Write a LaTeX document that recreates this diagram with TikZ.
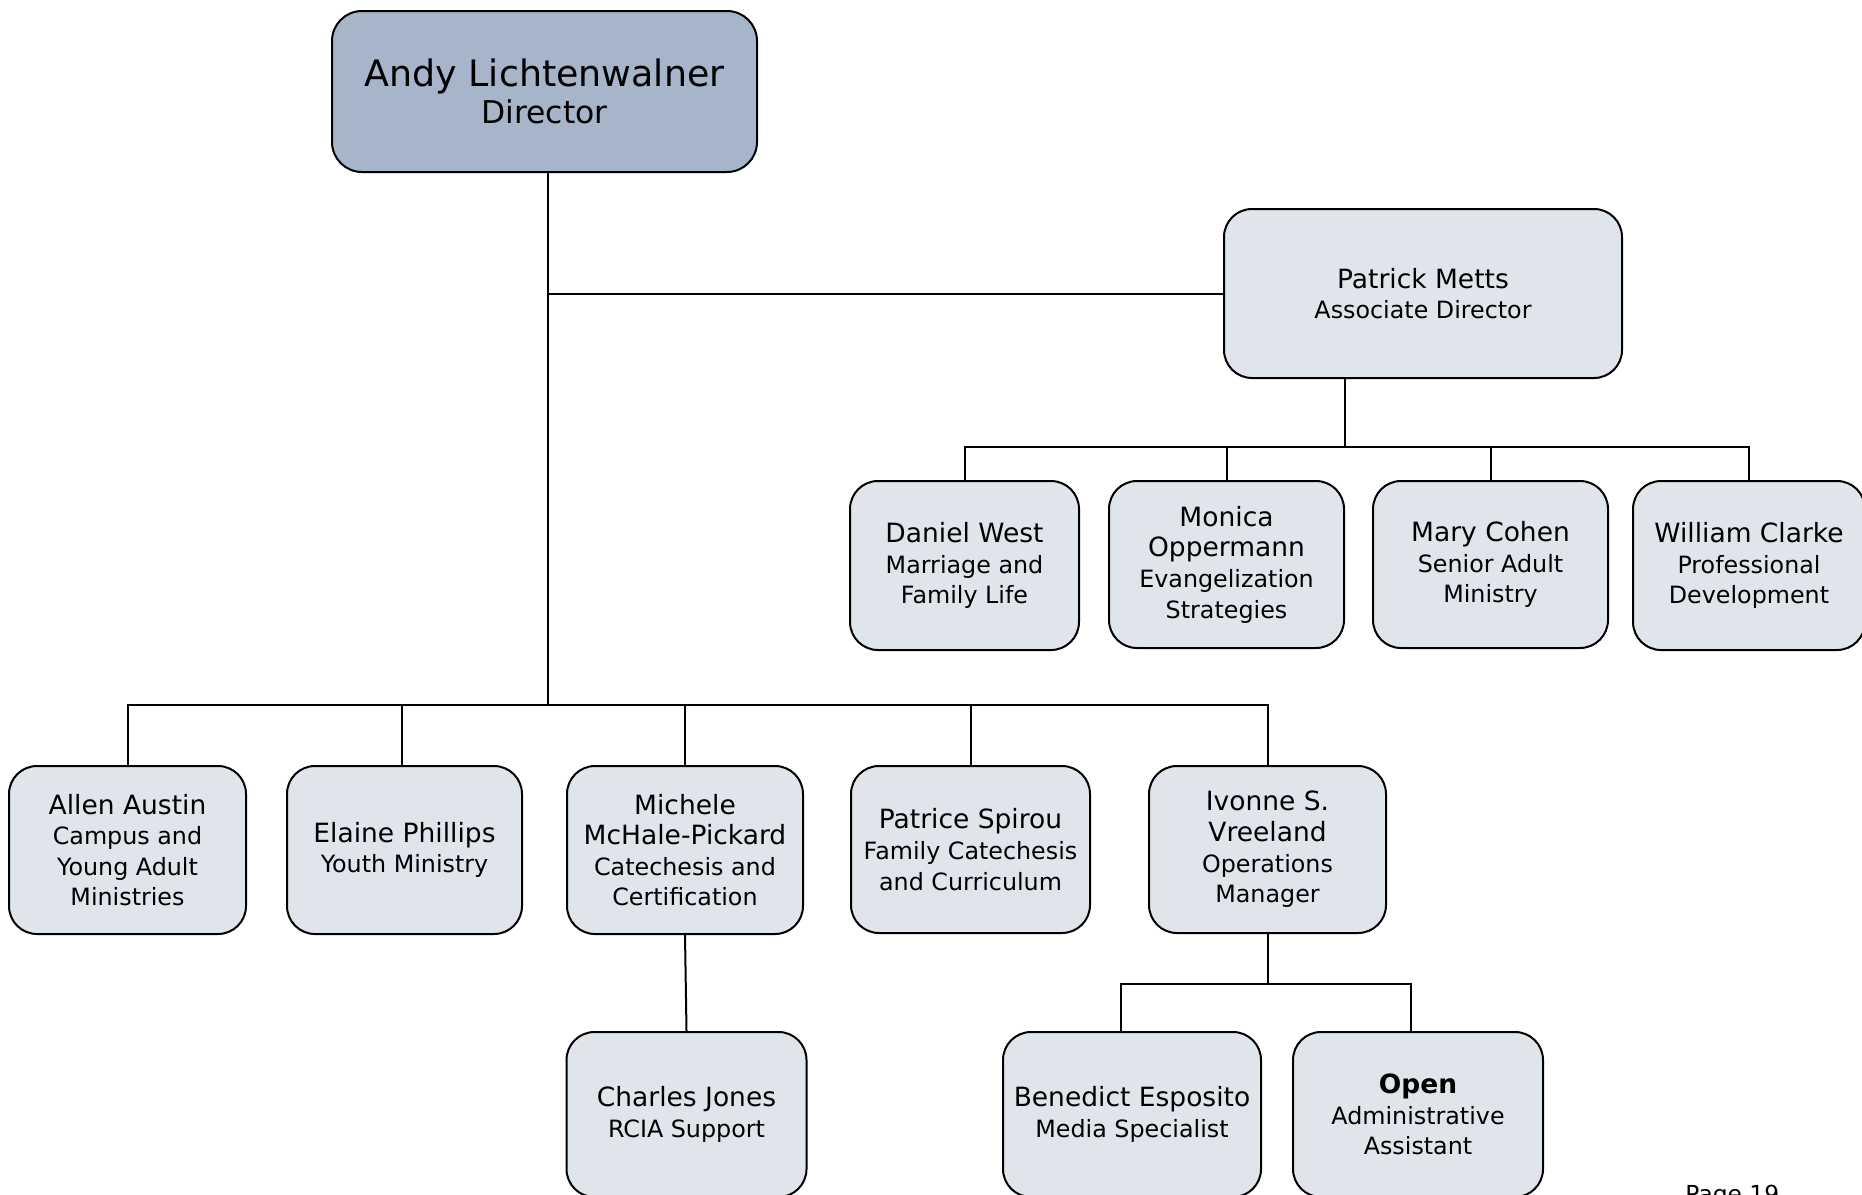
\documentclass[tikz,border=0pt]{standalone}
\usepackage{fontspec}
\setmainfont{DejaVu Sans}
\definecolor{dirfill}{RGB}{166,181,201}
\definecolor{boxfill}{RGB}{224,229,235}
\tikzset{
  orgbox/.style={draw=black, line width=1pt, rounded corners=14pt, fill=boxfill,
    align=center, inner sep=0pt, font=\fontsize{11.9}{15.3}\selectfont},
  sz/.style 2 args={minimum width=#1*0.5pt, minimum height=#2*0.5pt},
  link/.style={draw=black, line width=1pt}
}
\newcommand{\nm}[1]{{\fontsize{13.25}{15.3}\selectfont #1}}
\begin{document}
\begin{tikzpicture}[x=0.5pt,y=-0.5pt]
\useasboundingbox (0,0) rectangle (1862,1194);
% director
\node[orgbox, fill=dirfill, rounded corners=15pt, sz={425}{161},
  font=\fontsize{15.7}{18.5}\selectfont] (dir) at (544.5,91.5)
  {{\fontsize{18.2}{18.5}\selectfont Andy Lichtenwalner}\\Director};
\node[orgbox, sz={398}{169}] (pm) at (1423,293.5) {\nm{Patrick Metts}\\Associate Director};
% associate's reports
\node[orgbox, sz={229}{169}] (dw) at (964.5,565.5) {\nm{Daniel West}\\Marriage and\\Family Life};
\node[orgbox, sz={235}{167}] (mo) at (1226.5,564.5) {\nm{Monica}\\\nm{Oppermann}\\Evangelization\\Strategies};
\node[orgbox, sz={235}{167}] (mc) at (1490.5,564.5) {\nm{Mary Cohen}\\Senior Adult\\Ministry};
\node[orgbox, sz={232}{169}] (wc) at (1749,565.5) {\nm{William Clarke}\\Professional\\Development};
% director's reports
\node[orgbox, sz={237}{168}] (aa) at (127.5,850) {\nm{Allen Austin}\\Campus and\\Young Adult\\Ministries};
\node[orgbox, sz={235}{168}] (ep) at (404.5,850) {\nm{Elaine Phillips}\\Youth Ministry};
\node[orgbox, sz={236}{168}] (mm) at (685,850) {\nm{Michele}\\\nm{McHale-Pickard}\\Catechesis and\\Certification};
\node[orgbox, sz={239}{167}] (ps) at (970.5,849.5) {\nm{Patrice Spirou}\\Family Catechesis\\and Curriculum};
\node[orgbox, sz={237}{167}] (iv) at (1267.5,849.5) {\nm{Ivonne S.}\\\nm{Vreeland}\\Operations\\Manager};
% third level
\node[orgbox, sz={240}{165}] (cj) at (686.5,1114.5) {\nm{Charles Jones}\\RCIA Support};
\node[orgbox, sz={258}{165}] (be) at (1132,1114.5) {\nm{Benedict Esposito}\\Media Specialist};
\node[orgbox, sz={250}{165}] (op) at (1418,1114.5) {\nm{\bfseries Open}\\Administrative\\Assistant};
% page number (cut off at the lower edge, as in the reference)
\node[anchor=base west, inner sep=0pt, font=\fontsize{11.7}{14}\selectfont] (pg) at (1685,1202) {Page 19};
% connectors
\coordinate (barA) at (0,705);
\coordinate (barB) at (0,446.5);
\coordinate (barC) at (0,984);
\coordinate (trunk) at (547.5,172);
\draw[link] (trunk) -- (trunk |- barA);
\draw[link] (trunk |- pm.west) -- (pm.west);
\draw[link] (aa.north) -- (aa.north |- barA) -- (iv.north |- barA) -- (iv.north);
\draw[link] ([xshift=-1.25pt]ep.north) -- ([xshift=-1.25pt]ep.north |- barA);
\draw[link] (mm.north) -- (mm.north |- barA);
\draw[link] (ps.north) -- (ps.north |- barA);
\draw[link] ([xshift=-39pt]pm.south) -- ([xshift=-39pt]pm.south |- barB);
\draw[link] (dw.north) -- (dw.north |- barB) -- (wc.north |- barB) -- (wc.north);
\draw[link] (mo.north) -- (mo.north |- barB);
\draw[link] (mc.north) -- (mc.north |- barB);
\draw[link] (mm.south) -- (cj.north);
\draw[link] (iv.south) -- (iv.south |- barC);
\draw[link] ([xshift=-5.5pt]be.north) -- ([xshift=-5.5pt]be.north |- barC) -- ([xshift=-3.5pt]op.north |- barC) -- ([xshift=-3.5pt]op.north);
\end{tikzpicture}
\end{document}
